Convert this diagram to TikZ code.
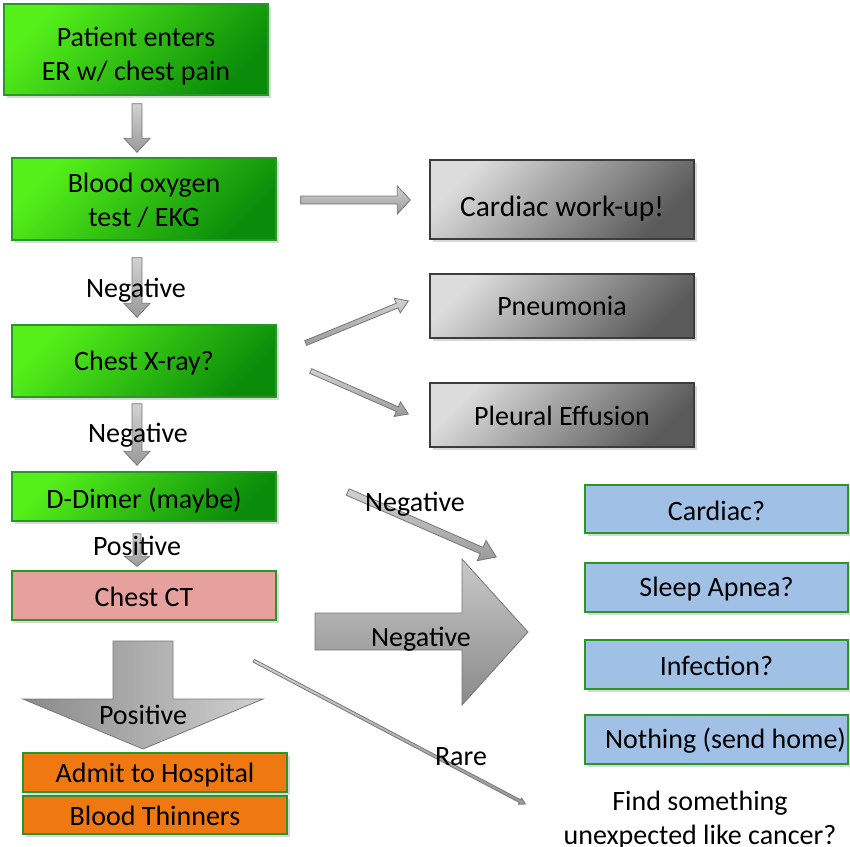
\documentclass[tikz,border=0pt]{standalone}
\usepackage{fontspec}
\setmainfont{Carlito}
\usetikzlibrary{calc,shadows}
\definecolor{gA}{HTML}{55F01A}
\definecolor{gB}{HTML}{0A8C0A}
\definecolor{gline}{HTML}{2A962A}
\definecolor{grA}{HTML}{DCDCDC}
\definecolor{grB}{HTML}{5A5A5A}
\definecolor{grline}{HTML}{3C3C3C}
\definecolor{pinkf}{HTML}{E6A19F}
\definecolor{orangef}{HTML}{F07810}
\definecolor{bluef}{HTML}{A0C0E6}
\definecolor{arrline}{HTML}{777777}
\definecolor{arrA}{HTML}{D2D2D2}
\definecolor{arrB}{HTML}{9A9A9A}
\definecolor{bigA}{HTML}{C8C8C8}
\definecolor{bigB}{HTML}{8A8A8A}
\definecolor{bigC}{HTML}{D0D0D0}
\newcommand\blockarrow[6]{%
  \coordinate (bac) at ($(#2)!#5!(#1)$);
  \draw[#6] ($(#1)!#3!90:(#2)$) -- ($(bac)!#3!90:(#2)$) -- ($(bac)!#4!90:(#2)$) -- (#2)
    -- ($(bac)!#4!-90:(#2)$) -- ($(bac)!#3!-90:(#2)$) -- ($(#1)!#3!-90:(#2)$) -- cycle;}
\tikzset{
  txt/.style={font=\fontsize{28}{34}\selectfont, align=center, inner sep=0pt},
  box/.style={txt, rectangle, minimum width=264pt, line width=1.4pt,
    drop shadow={shadow xshift=3pt, shadow yshift=-3pt, opacity=0.3}},
  greenbox/.style={box, draw=gline, top color=gA, bottom color=gB, shading angle=45},
  graybox/.style={box, draw=grline, top color=grA, bottom color=grB, shading angle=45},
  pinkbox/.style={box, draw=gline, fill=pinkf},
  orangebox/.style={box, draw=gline, fill=orangef},
  bluebox/.style={box, draw=gline, fill=bluef, minimum width=263pt},
  arr/.style={draw=arrline, line width=0.8pt, top color=arrA, bottom color=arrB},
}
\begin{document}
\begin{tikzpicture}[x=1pt,y=-1pt]
\useasboundingbox[fill=white] (0,0) rectangle (850,846);
% boxes
\node[greenbox, minimum height=91pt, label={[txt,yshift=-7pt]center:Patient enters\\ER w/ chest pain}] (g1) at (136,49.5) {};
\node[greenbox, minimum height=82pt, label={[txt,yshift=-1.5pt]center:Blood oxygen\\test / EKG}] (g2) at (144,199) {};
\node[greenbox, minimum height=72pt, label={[txt,yshift=-2pt]center:Chest X-ray?}] (g3) at (144,361) {};
\node[greenbox, minimum height=49pt, label={[txt,yshift=-4pt]center:D-Dimer (maybe)}] (g4) at (144,496.5) {};
\node[pinkbox, minimum height=49pt, label={[txt,yshift=-1.5pt]center:Chest CT}] (ct) at (144,595.5) {};
\node[orangebox, minimum height=39pt, label={[txt,yshift=-3pt]center:Admit to Hospital}] (o1) at (155,772.5) {};
\node[orangebox, minimum height=38pt, label={[txt,yshift=-1pt]center:Blood Thinners}] (o2) at (155,815) {};
\node[graybox, minimum height=79pt, label={[txt,yshift=-9pt,font=\fontsize{29.5}{34}\selectfont]center:Cardiac work-up!}] (r1) at (562,199.5) {};
\node[graybox, minimum height=64pt, label={[txt]center:Pneumonia}] (r2) at (562,306) {};
\node[graybox, minimum height=64pt, label={[txt,yshift=-1pt]center:Pleural Effusion}] (r3) at (562,415) {};
\node[bluebox, minimum height=48pt, label={[txt,yshift=-1.5pt]center:Cardiac?}] (b1) at (716.5,509) {};
\node[bluebox, minimum height=49pt, label={[txt,yshift=-1.5pt]center:Sleep Apnea?}] (b2) at (716.5,587.5) {};
\node[bluebox, minimum height=49pt, label={[txt,yshift=-1.5pt]center:Infection?}] (b3) at (716.5,664.5) {};
\node[bluebox, minimum height=49pt, label={[txt,yshift=-1pt,xshift=9pt]center:Nothing (send home)}] (b4) at (716.5,739.5) {};
\node[txt] (find) at (700,820) {Find something\\unexpected like cancer?};
% connector end points
\coordinate (a1s) at ($(g1.south)+(1,8)$);   \coordinate (a1e) at ($(g2.north)+(-7,-5)$);
\coordinate (a2s) at ($(g2.south)+(-7,17)$);  \coordinate (a2e) at ($(g3.north)+(-7,-7)$);
\coordinate (a3s) at ($(g3.south)+(-7,6)$);   \coordinate (a3e) at ($(g4.north)+(-7,-6)$);
\coordinate (a4s) at ($(g4.south)+(-7,12)$);  \coordinate (a4e) at ($(ct.north)+(-7,-4)$);
\coordinate (c1s) at ($(g2.east)+(24,1)$);    \coordinate (c1e) at ($(r1.west)+(-19,0.5)$);
\coordinate (p1s) at ($(g3.east)+(29,-18)$);  \coordinate (p1e) at ($(r2.west)+(-21,-5)$);
\coordinate (p2s) at ($(g3.east)+(34,10)$);   \coordinate (p2e) at ($(r3.west)+(-21,-1)$);
\coordinate (n1s) at ($(g4.east)+(71,-4.5)$); \coordinate (n1e) at ($(b1.west)+(-88,48)$);
\coordinate (rs) at ($(ct.south east)+(-23,40)$); \coordinate (re) at ($(find.west)+(-38,-16)$);
% block arrows
\blockarrow{a1s}{a1e}{5pt}{13pt}{14pt}{arr}
\blockarrow{a2s}{a2e}{5pt}{13pt}{14pt}{arr}
\blockarrow{a3s}{a3e}{5pt}{13pt}{14pt}{arr}
\blockarrow{a4s}{a4e}{4pt}{12.5pt}{10pt}{arr}
\blockarrow{c1s}{c1e}{4pt}{14pt}{13pt}{arr}
\blockarrow{p1s}{p1e}{2.5pt}{8pt}{12pt}{arr}
\blockarrow{p2s}{p2e}{2.5pt}{8pt}{12pt}{arr}
\blockarrow{n1s}{n1e}{3.5pt}{11pt}{16pt}{arr}
\blockarrow{rs}{re}{1.5pt}{3.5pt}{6pt}{arr}
% big arrows
\draw[draw=arrline, line width=0.8pt, top color=bigA, bottom color=bigB]
  (315,613) -- (462,613) -- (462,559) -- (528,632) -- (462,705) -- (462,650) -- (315,650) -- cycle;
\draw[draw=arrline, line width=0.8pt, left color=bigB, right color=bigC]
  (113,641) -- (173,641) -- (173,699) -- (263,699) -- (143,749) -- (23,699) -- (113,699) -- cycle;
% labels
\node[txt] (l1) at (136,290) {Negative};
\node[txt] (l2) at (138,435) {Negative};
\node[txt] (l3) at (137,546) {Positive};
\node[txt] (l4) at (415,504) {Negative};
\node[txt] (l5) at (421,639) {Negative};
\node[txt] (l6) at (143,715) {Positive};
\node[txt] (l7) at (461,757) {Rare};
\end{tikzpicture}
\end{document}
